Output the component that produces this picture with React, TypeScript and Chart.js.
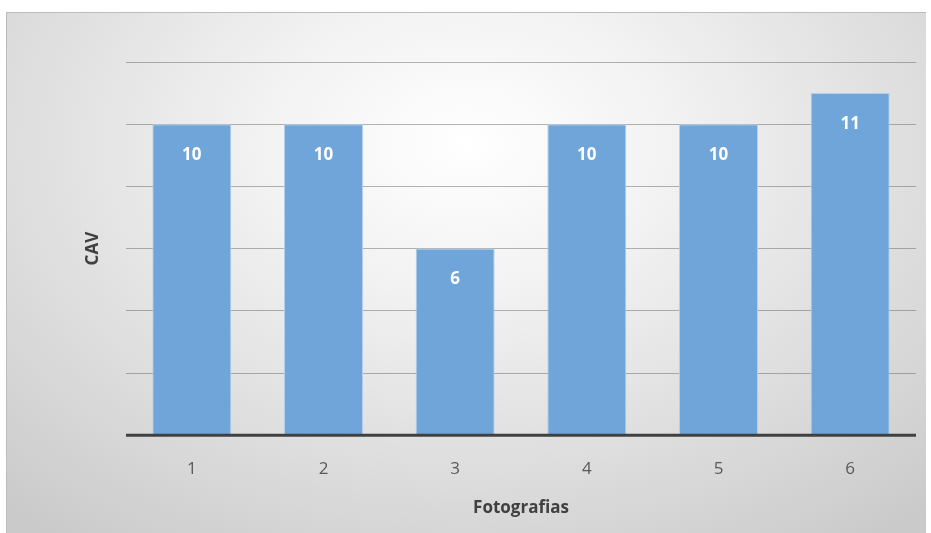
import React, { useEffect, useRef } from "react";
import { Chart, registerables } from "chart.js";

Chart.register(...registerables);

const categories: string[] = ["1", "2", "3", "4", "5", "6"];
const cavValues: number[] = [10, 10, 6, 10, 10, 11];
const yTicks: number[] = [0, 2, 4, 6, 8, 10, 12];
const xTitle = "Fotografias";
const yTitle = "CAV";

const FONT = "'Open Sans', 'DejaVu Sans', sans-serif";

const barLabelPlugin = {
  id: "barLabels",
  afterDatasetsDraw(chart: any) {
    const { ctx } = chart;
    const meta = chart.getDatasetMeta(0);
    ctx.save();
    ctx.fillStyle = "#ffffff";
    ctx.font = `bold 17px ${FONT}`;
    ctx.textAlign = "center";
    ctx.textBaseline = "middle";
    meta.data.forEach((bar: any, i: number) => {
      const v = chart.data.datasets[0].data[i];
      ctx.fillText(String(v), bar.x, bar.y + 31);
    });
    ctx.restore();
  },
};

const baselinePlugin = {
  id: "baseline",
  afterDatasetsDraw(chart: any) {
    const { ctx, chartArea, scales } = chart;
    const y = scales.y.getPixelForValue(0);
    ctx.save();
    ctx.strokeStyle = "#404040";
    ctx.lineWidth = 3;
    ctx.beginPath();
    ctx.moveTo(chartArea.left, y);
    ctx.lineTo(chartArea.right, y);
    ctx.stroke();
    ctx.restore();
  },
};

export default function App() {
  const ref = useRef<HTMLCanvasElement | null>(null);

  useEffect(() => {
    if (!ref.current) return;
    const chart = new Chart(ref.current, {
      type: "bar",
      data: {
        labels: categories,
        datasets: [
          {
            data: cavValues,
            backgroundColor: "#6fa5d8",
            borderColor: "#b4cfee",
            borderWidth: 1,
            barPercentage: 0.6,
            categoryPercentage: 1,
          },
        ],
      },
      options: {
        animation: false,
        responsive: false,
        maintainAspectRatio: false,
        layout: { padding: { top: 50, right: 10, bottom: 15, left: 70 } },
        plugins: {
          legend: { display: false },
          tooltip: { enabled: false },
          title: { display: false },
        },
        scales: {
          x: {
            grid: { display: false, drawTicks: false },
            border: { display: false },
            ticks: {
              color: "#595959",
              font: { family: FONT, size: 17 },
              padding: 24,
            },
            title: {
              display: true,
              text: xTitle,
              color: "#404040",
              font: { family: FONT, size: 17, weight: "bold" },
              padding: { top: -6, bottom: 0 },
            },
          },
          y: {
            min: 0,
            max: 12,
            afterBuildTicks(scale: any) {
              scale.ticks = yTicks.map((v) => ({ value: v }));
            },
            grid: {
              color: "rgba(90,90,90,0.45)",
              lineWidth: 1,
              drawTicks: false,
            },
            border: { display: false },
            ticks: { display: false },
            afterFit(scale: any) {
              scale.width = 50;
            },
            title: {
              display: true,
              text: yTitle,
              color: "#404040",
              font: { family: FONT, size: 17, weight: "bold" },
              padding: { top: 7, bottom: 0 },
            },
          },
        },
      },
      plugins: [barLabelPlugin, baselinePlugin],
    });
    return () => chart.destroy();
  }, []);

  return (
    <div
      style={{
        position: "absolute",
        left: 0,
        top: 0,
        width: 931,
        height: 533,
        background: "#ffffff",
        overflow: "hidden",
      }}
    >
      <div
        style={{
          position: "absolute",
          left: 6,
          top: 12,
          width: 920,
          height: 521,
          boxSizing: "border-box",
          borderTop: "1px solid #bcbcbc",
          borderLeft: "1px solid #bcbcbc",
          background:
            "radial-gradient(ellipse 75% 95% at 50% 25%, #ffffff 0%, #f2f2f2 30%, #dedede 65%, #cacaca 100%)",
        }}
      >
        <canvas
          ref={ref}
          width={920}
          height={521}
          style={{ position: "absolute", left: -1, top: -1, width: 920, height: 521 }}
        />
      </div>
    </div>
  );
}
